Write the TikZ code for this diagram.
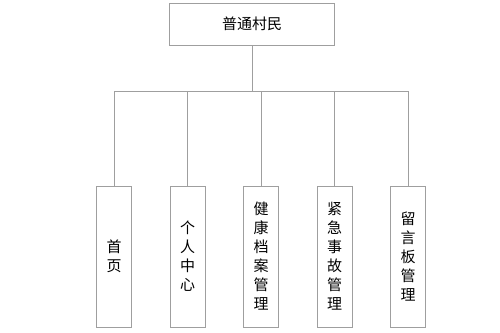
\documentclass[tikz,border=0pt]{standalone}
\usepackage{fontspec}
\newfontfamily\cjk{Noto Sans CJK SC}
\begin{document}
\begin{tikzpicture}[x=1pt,y=-1pt,
  box/.style={draw=gray!75,line width=0.9pt,fill=white,inner sep=0pt,font=\cjk\fontsize{15}{19}\selectfont,align=center},
  link/.style={draw=gray!75,line width=0.9pt}]
\useasboundingbox (0,0) rectangle (500,332);
\node[box,minimum width=165pt,minimum height=42pt] (root) at (252,24) {普通村民};
\coordinate (hub) at (252,91);
\foreach \n/\x/\t in {a/114/{首\\页},b/187.5/{个\\人\\中\\心},c/261/{健\\康\\档\\案\\管\\理},d/334.5/{紧\\急\\事\\故\\管\\理},e/408/{留\\言\\板\\管\\理}}{
  \node[box,minimum width=35pt,minimum height=141pt] (\n) at (\x,256.5) {\t};
  \coordinate (j\n) at (\x,91);
  \draw[link] (j\n) -- (\n.north);
}
\draw[link] (root.south) -- (hub);
\draw[link] (ja) -- (je);
\end{tikzpicture}
\end{document}
